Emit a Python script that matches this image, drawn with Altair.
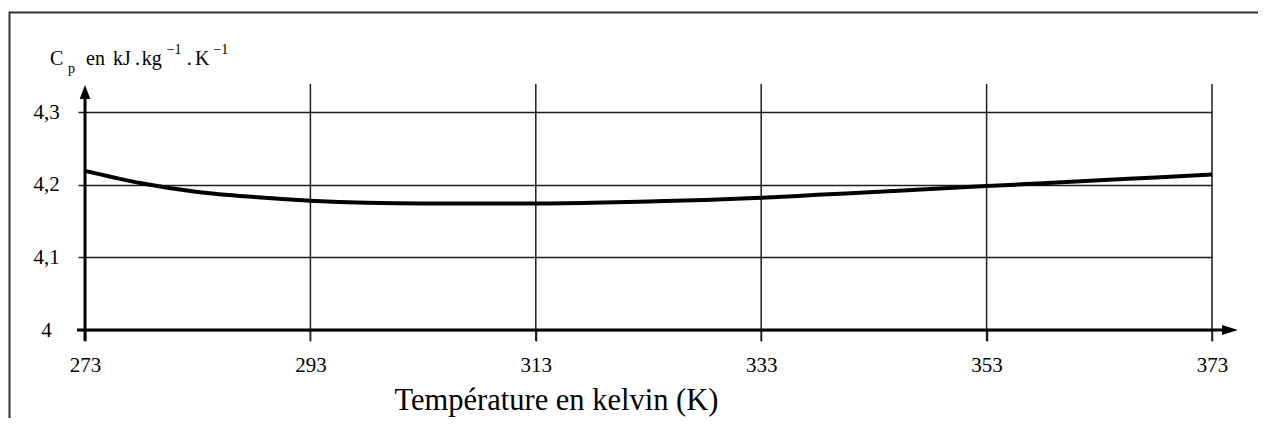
import altair as alt
import pandas as pd

# Data
temperature_k = [273, 278, 283, 288, 293, 298, 303, 308, 313, 318, 323,
                 328, 333, 338, 343, 348, 353, 358, 363, 368, 373]
cp_values = [4.219, 4.202, 4.190, 4.183, 4.178, 4.175, 4.174, 4.174, 4.174,
             4.175, 4.177, 4.179, 4.182, 4.186, 4.190, 4.194, 4.198, 4.202,
             4.206, 4.210, 4.214]
x_ticks = [273, 293, 313, 333, 353, 373]
x_grid = [293, 313, 333, 353, 373]
y_ticks = [4.0, 4.1, 4.2, 4.3]
x_title = "Température en kelvin (K)"

W, H = 1127, 218
FONT = "Liberation Serif"
INK = "#000000"
GRID = "#1e1e1e"

df = pd.DataFrame({"T": temperature_k, "Cp": cp_values})
one = alt.Data(values=[{"a": 1}])

xscale = alt.Scale(domain=[273, 373], nice=False, zero=False)
yscale = alt.Scale(domain=[4.0, 4.3], nice=False, zero=False)

label_expr = "datum.value == 4 ? '4' : replace(format(datum.value, '.1f'), '.', ',')"

curve = alt.Chart(df).mark_line(color=INK, strokeWidth=4, interpolate="monotone").encode(
    x=alt.X("T:Q", scale=xscale,
            axis=alt.Axis(values=x_ticks, grid=False, domain=False, ticks=True,
                          tickSize=11, tickColor=GRID, tickWidth=1.5,
                          labelFont=FONT, labelFontSize=21, labelColor=INK,
                          labelPadding=13, labelFlush=False,
                          title=x_title, titleFont=FONT, titleFontSize=30.5,
                          titleFontWeight="normal", titleColor=INK,
                          titleX=471, titleY=79.5, titleAlign="center",
                          titleBaseline="alphabetic", titleAnchor="start")),
    y=alt.Y("Cp:Q", scale=yscale,
            axis=alt.Axis(values=y_ticks, grid=True, gridColor=GRID, gridWidth=1.5,
                          gridOpacity=1, domain=False, ticks=True, tickSize=7,
                          tickColor=GRID, tickWidth=1.5,
                          labelFont=FONT, labelFontSize=21, labelColor=INK,
                          labelAlign="center", labelPadding=32,
                          labelExpr=label_expr, title=None)),
)

vgrid = alt.Chart(pd.DataFrame({"T": x_grid})).mark_rule(color=GRID, strokeWidth=1.5).encode(
    x=alt.X("T:Q", scale=xscale),
    y=alt.value(-28),
    y2=alt.value(229),
)

# frame (top and left edges)
frame_top = alt.Chart(one).mark_rule(color="#333333", strokeWidth=2).encode(
    x=alt.value(-76), x2=alt.value(1200), y=alt.value(-99.5))
frame_left = alt.Chart(one).mark_rule(color="#333333", strokeWidth=2).encode(
    x=alt.value(-75.5), y=alt.value(-100.5), y2=alt.value(330))

# thick axes with arrows
x_axis_line = alt.Chart(one).mark_rule(color=INK, strokeWidth=3).encode(
    x=alt.value(-8), x2=alt.value(1140), y=alt.value(H))
x_arrow = alt.Chart(one).mark_point(shape="M-1,-0.625L1,0L-1,0.625Z", filled=True,
                                    size=256, color=INK, opacity=1).encode(
    x=alt.value(1145), y=alt.value(H))
y_axis_line = alt.Chart(one).mark_rule(color=INK, strokeWidth=3).encode(
    x=alt.value(0), y=alt.value(-14), y2=alt.value(229))
y_arrow = alt.Chart(one).mark_point(shape="M-0.76,1L0,-1L0.76,1Z", filled=True,
                                    size=196, color=INK, opacity=1).encode(
    x=alt.value(0), y=alt.value(-20))

# y-axis unit label: C_p en kJ.kg^-1.K^-1
def txt(s, x, y, size):
    return alt.Chart(one).mark_text(text=s, font=FONT, fontSize=size, color=INK,
                                    align="left", baseline="alphabetic").encode(
        x=alt.value(x), y=alt.value(y))

unit_parts = [
    txt("C", -35, -47, 20),
    txt("p", -17, -39.5, 14),
    txt("en", 1, -47, 20),
    txt("kJ", 28, -47, 20),
    txt(".", 50, -47, 20),
    txt("kg", 56.7, -47, 20),
    txt("\u22121", 81.7, -58.5, 14),
    txt(".", 101.7, -47, 20),
    txt("K", 110, -47, 20),
    txt("\u22121", 128.3, -58.5, 14),
]

chart = alt.layer(
    frame_top, frame_left, vgrid, curve, x_axis_line, x_arrow, y_axis_line, y_arrow,
    *unit_parts
).properties(
    width=W, height=H,
    padding={"left": 77, "top": 104, "right": 46, "bottom": 88},
    autosize=alt.AutoSizeParams(type="none"),
).configure_view(stroke=None).configure(background="white")

chart.save("out.html", embed_options={"renderer": "svg", "actions": False})
